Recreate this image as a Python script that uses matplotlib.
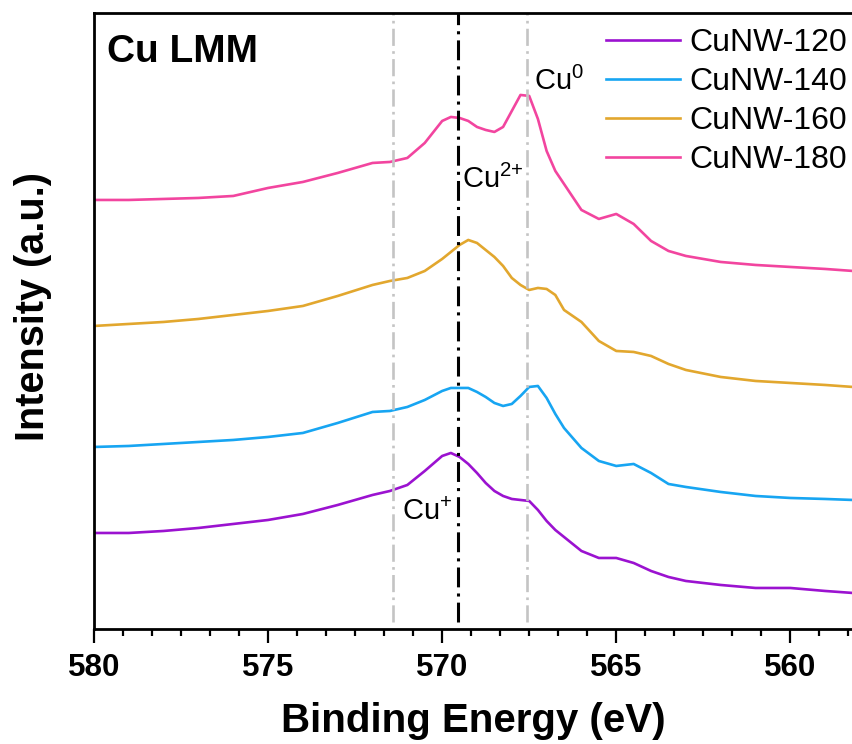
import matplotlib
matplotlib.use("Agg")
import matplotlib.pyplot as plt
from matplotlib.ticker import MultipleLocator

plt.rcParams['font.family'] = ['Liberation Sans', 'DejaVu Sans']
plt.rcParams['mathtext.fontset'] = 'custom'
plt.rcParams['mathtext.rm'] = 'Liberation Sans'

# binding energy grid (eV)
energy = [580, 579, 578, 577, 576, 575, 574, 573, 572, 571.5, 571, 570.5, 570,
          569.75, 569.5, 569.25, 569, 568.75, 568.5, 568.25, 568, 567.75, 567.5,
          567.25, 567, 566.75, 566.5, 566, 565.5, 565, 564.5, 564, 563.5, 563,
          562, 561, 560, 559, 558.2]

# intensities (a.u., already offset for stacking)
cunw_120 = [96, 96, 98, 101, 105, 109, 115, 124, 134, 138, 144, 158, 173,
            176, 172, 165, 156, 146, 138, 133, 130, 129, 128,
            119, 108, 99, 92, 78, 71, 71, 66, 58, 52, 48,
            44, 41, 41, 38, 36]
cunw_140 = [182, 183, 185, 187, 189, 192, 196, 206, 217, 218, 222, 229, 238,
            241, 241, 241, 237, 232, 226, 223, 225, 233, 242,
            243, 231, 215, 201, 181, 168, 163, 165, 156, 145, 142,
            137, 133, 131, 130, 129]
cunw_160 = [303, 305, 307, 310, 314, 318, 323, 333, 344, 348, 351, 358, 370,
            377, 384, 389, 386, 379, 372, 363, 351, 344, 339,
            341, 340, 334, 319, 307, 288, 278, 277, 273, 265, 259,
            252, 248, 246, 244, 242]
cunw_180 = [429, 429, 430, 431, 433, 441, 447, 456, 466, 467, 471, 486, 508,
            512, 511, 508, 502, 499, 497, 502, 518, 534, 533,
            510, 478, 458, 445, 419, 410, 415, 405, 388, 378, 373,
            367, 364, 362, 360, 358]

labels = ['CuNW-120', 'CuNW-140', 'CuNW-160', 'CuNW-180']
colors = ['#9b12d0', '#17a5f2', '#e2a72e', '#f2459f']

# reference positions (eV)
cu_plus_pos = 571.4
cu2_pos = 569.55
cu0_pos = 567.55

fig = plt.figure(figsize=(8.53, 7.44), dpi=100)
ax = fig.add_axes([0.1102, 0.1546, 0.8898, 0.8280])

for y, lab, c in zip([cunw_120, cunw_140, cunw_160, cunw_180], labels, colors):
    ax.plot(energy, y, color=c, lw=1.9, label=lab)

ax.axvline(cu_plus_pos, ymin=0.011, ymax=1, color='#c4c4c4', lw=1.9, dashes=(6.5, 2, 1, 2))
ax.axvline(cu0_pos, ymin=0.011, ymax=1, color='#c4c4c4', lw=1.9, dashes=(6.5, 2, 1, 2))
ax.axvline(cu2_pos, ymin=0.011, ymax=1, color='black', lw=2.2, dashes=(6.5, 2, 1, 2))

ax.text(567.36, 539, 'Cu$^{\\mathrm{0}}$', fontsize=21, va='baseline')
ax.text(569.42, 441, 'Cu$^{2{+}}$', fontsize=21, va='baseline')
ax.text(571.15, 109, 'Cu$^{{+}}$', fontsize=21, va='baseline')
ax.text(0.017, 0.920, 'Cu LMM', transform=ax.transAxes, fontsize=28,
        fontweight='bold', va='baseline')

ax.set_xlim(580, 558.2)
ax.set_ylim(0, 616)
ax.xaxis.set_major_locator(MultipleLocator(5))
ax.xaxis.set_minor_locator(MultipleLocator(5 / 6))
ax.set_yticks([])
ax.tick_params(axis='x', which='major', length=10, width=1.6, pad=7,
               labelsize=22.5)
ax.tick_params(axis='x', which='minor', length=5, width=1.6)
for t in ax.get_xticklabels():
    t.set_fontweight('bold')
for s in ['left', 'top', 'bottom']:
    ax.spines[s].set_linewidth(2)
ax.spines['right'].set_visible(False)

ax.set_xlabel('Binding Energy (eV)', fontsize=29, fontweight='bold', labelpad=14)
ax.set_ylabel('Intensity (a.u.)', fontsize=28.5, fontweight='bold')
ax.yaxis.set_label_coords(-0.0553, 0.523)

ax.legend(loc='upper right', bbox_to_anchor=(847 / 853, 1 - 28 / 744),
          bbox_transform=fig.transFigure, frameon=False, fontsize=23,
          handlelength=2.3, handletextpad=0.3, labelspacing=0.28,
          borderpad=0, borderaxespad=0)

fig.savefig('out.png', dpi=100)
